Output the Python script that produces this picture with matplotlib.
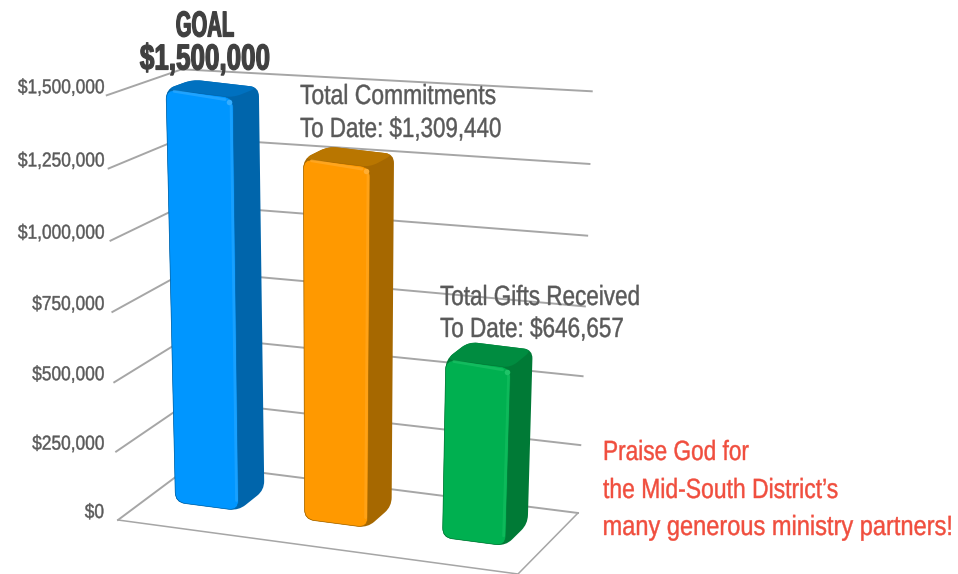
import matplotlib
matplotlib.use("Agg")
import matplotlib.pyplot as plt
from matplotlib.patheffects import AbstractPathEffect
from matplotlib.path import Path
from matplotlib.patches import PathPatch
from matplotlib.transforms import Affine2D
import numpy as np

plt.rcParams['font.family'] = ['Liberation Sans', 'DejaVu Sans']

# chart values
bar_names = ["Goal", "Total Commitments", "Total Gifts Received"]
bar_values = [1500000, 1309440, 646657]
axis_values = [0, 250000, 500000, 750000, 1000000, 1250000, 1500000]
axis_labels = ["$0", "$250,000", "$500,000", "$750,000", "$1,000,000", "$1,250,000", "$1,500,000"]

# colours: front, side, top, highlight
bar_colors = [
    ("#0096ff", "#0065ab", "#0071c0", "#35adff"),
    ("#ff9900", "#a66800", "#b97600", "#ffae33"),
    ("#00b050", "#007a36", "#008c40", "#1fc468"),
]
bar_u = [0.0725, 0.40, 0.75]
grid_color = "#a6a6a6"
text_color = "#595959"

# floor corners of the fake 3d box, in pixels
FL = np.array([118.0, 520.0])
FR = np.array([518.0, 574.0])
BL = np.array([193.0, 464.0])
BR = np.array([578.0, 513.0])


class Squeeze(AbstractPathEffect):
    # no condensed font here, so narrow the glyphs around x0 (display pixels)
    def __init__(self, sx, x0, stroke=0):
        super().__init__()
        self.sx = sx
        self.x0 = x0
        self.stroke = stroke

    def draw_path(self, renderer, gc, tpath, affine, rgbFace=None):
        squeezed = affine + Affine2D().translate(-self.x0, 0).scale(self.sx, 1).translate(self.x0, 0)
        gc0 = renderer.new_gc()
        gc0.copy_properties(gc)
        if self.stroke:
            gc0.set_linewidth(self.stroke)
            gc0.set_foreground(rgbFace)
        renderer.draw_path(gc0, tpath, squeezed, rgbFace)
        gc0.restore()


def project(u, v, value, bend=True):
    # u: left to right on the floor, v: front to back, value: dollars up
    p = (1 - v) * (FL + u * (FR - FL)) + v * (BL + u * (BR - BL))
    m = value / 1000000
    h = 283 - 20 * v + 18 * u * v ** 8
    lean = (u - 0.45) * 25 * m / 1.5
    k = 0.96 + 0.027 * m if bend else 1.0
    return np.array([p[0] + lean, p[1] - h * m * k])


def rounded(points, r):
    # closed polygon with rounded corners
    pts = [np.array(p, dtype=float) for p in points]
    n = len(pts)
    verts, codes = [], []
    for i in range(n):
        prev_p, cur, next_p = pts[i - 1], pts[i], pts[(i + 1) % n]
        a = cur + (prev_p - cur) * min(r / np.linalg.norm(prev_p - cur), 0.45)
        b = cur + (next_p - cur) * min(r / np.linalg.norm(next_p - cur), 0.45)
        verts.append(a)
        codes.append(Path.MOVETO if i == 0 else Path.LINETO)
        verts += [cur, b]
        codes += [Path.CURVE3, Path.CURVE3]
    verts.append(verts[0])
    codes.append(Path.CLOSEPOLY)
    return Path(verts, codes)


fig = plt.figure(figsize=(9.58, 5.74), dpi=100)
ax = fig.add_axes([0, 0, 1, 1])
ax.set_xlim(0, 958)
ax.set_ylim(574, 0)
ax.axis("off")


def label(x, y, s, size, color=text_color, ha="left", sx=0.82, stroke=0.3, weight="normal"):
    return ax.text(x, y, s, ha=ha, va="center", fontsize=size, color=color, fontweight=weight,
                   zorder=6, path_effects=[Squeeze(sx, x, stroke)])


# walls and floor
for val, text in zip(axis_values, axis_labels):
    x0, y0 = project(0, 0, val)
    x1, y1 = project(0, 1, val)
    x2, y2 = project(1, 1, val)
    ax.plot([x0, x1, x2], [y0, y1, y2], color=grid_color, lw=1.4, zorder=1)
    label(104, y0 - 7.5, text, 14.5, ha="right", sx=0.86)

ax.plot([FL[0], FR[0], BR[0]], [FL[1], FR[1], BR[1]], color=grid_color, lw=1.1, zorder=1)

# bars
depth0, depth1 = 0.385, 0.745
bar_w = 0.16
for i, val in enumerate(bar_values):
    front, side, top, light = bar_colors[i]
    u0 = bar_u[i]
    u1 = u0 + bar_w
    fl_b, fr_b = project(u0, depth0, 0), project(u1, depth0, 0)
    br_b = project(u1, depth1, 0)
    fl_t, fr_t = project(u0, depth0, val, False), project(u1, depth0, val, False)
    bl_t, br_t = project(u0, depth1, val, False), project(u1, depth1, val, False)

    # whole outline first so no gaps show where the rounded faces meet
    ax.add_patch(PathPatch(rounded([fl_t, bl_t, br_t, br_b, fr_b, fl_b], 9), fc=side, ec="none", zorder=2))
    ax.add_patch(PathPatch(rounded([fl_t, bl_t, br_t, fr_t], 9), fc=top, ec="none", zorder=3))
    ax.add_patch(PathPatch(rounded([fl_t, fr_t, fr_b, fl_b], 10), fc=front, ec=side, lw=0.5, zorder=4))

    # soft light along the front edges and a glint on the corner
    ax.plot([fr_t[0] - 2, fr_b[0] - 2], [fr_t[1] + 8, fr_b[1] - 10], color=light, lw=2,
            alpha=0.45, solid_capstyle="round", zorder=4.5)
    ax.plot([fl_t[0] + 8, fr_t[0] - 8], [fl_t[1] + 2, fr_t[1] + 2], color=light, lw=2,
            alpha=0.6, solid_capstyle="round", zorder=4.5)
    ax.plot([fr_t[0] - 4], [fr_t[1] + 4], "o", ms=4, color=light, mec="none", zorder=4.6)

# labels
label(205, 27, "GOAL", 26, color="#404040", ha="center", sx=0.56, stroke=0.9, weight="bold")
label(205, 60, "$1,500,000", 26, color="#404040", ha="center", sx=0.72, stroke=0.9, weight="bold")

label(300, 97, "Total Commitments", 20, sx=0.825)
label(300, 130, "To Date: $1,309,440", 20, sx=0.805)
label(440, 298, "Total Gifts Received", 20, sx=0.81)
label(440, 330, "To Date: $646,657", 20, sx=0.81)

red = "#f04e3e"
label(603, 453, "Praise God for", 20, color=red, sx=0.815)
label(603, 491, "the Mid-South District\u2019s", 20, color=red, sx=0.825)
label(952, 528, "many generous ministry partners!", 20, color=red, ha="right", sx=0.85)

fig.savefig("out.png", dpi=100)
